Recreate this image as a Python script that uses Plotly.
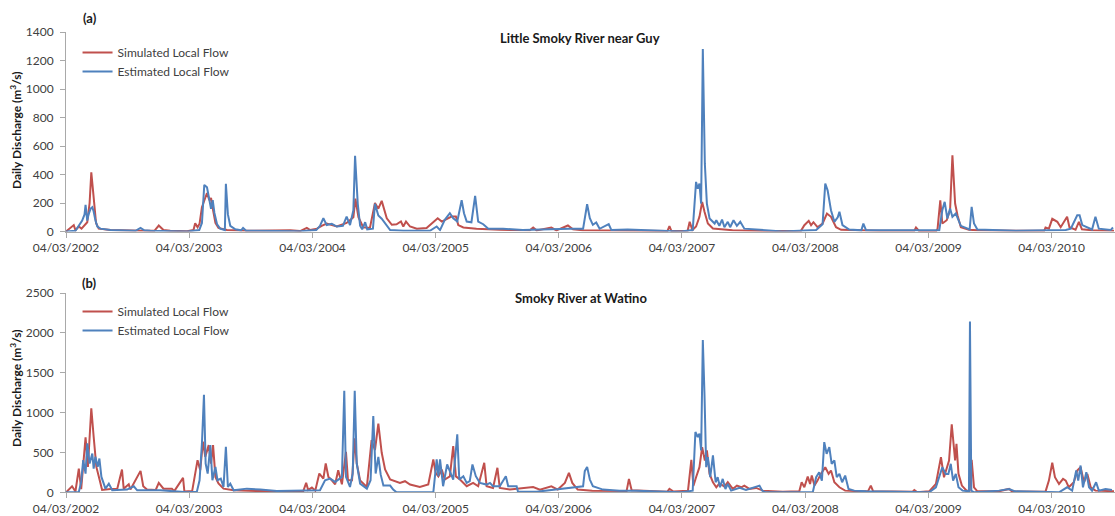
import pandas as pd
import plotly.graph_objects as go

START = pd.Timestamp("2002-03-04")

# ---- (a) Little Smoky River near Guy ------------------------------------
# day of record (days after 04/03/2002) and daily discharge in m3/s
sim_a_day = [0, 23, 28, 38, 46, 63, 70, 75, 82, 89, 97, 132, 221, 262, 275, 289, 309, 359,
             378, 383, 390, 396, 403, 418, 425, 430, 436, 443, 452, 477, 536, 665, 694, 714,
             724, 744, 758, 773, 803, 832, 852, 858, 867, 881, 901, 916, 926, 936, 951, 966,
             980, 993, 1000, 1008, 1020, 1040, 1069, 1089, 1102, 1114, 1128, 1143, 1156, 1163,
             1178, 1217, 1286, 1375, 1385, 1395, 1439, 1454, 1488, 1503, 1532, 1701, 1783,
             1789, 1795, 1843, 1849, 1857, 1868, 1878, 1886, 1893, 1903, 1918, 1946, 1976,
             2065, 2179, 2189, 2202, 2209, 2216, 2228, 2243, 2256, 2268, 2283, 2298, 2411,
             2515, 2520, 2529, 2580, 2584, 2592, 2598, 2611, 2621, 2628, 2636, 2643, 2653,
             2677, 2702, 2816, 2900, 2904, 2914, 2924, 2939, 2949, 2959, 2968, 2975, 2993,
             3003, 3012, 3041, 3107]
sim_a_flow = [0, 45, 10, 35, 20, 65, 200, 415, 240, 60, 20, 10, 5, 5, 42, 10, 5, 2,
              10, 58, 30, 55, 170, 270, 220, 235, 150, 60, 25, 10, 5, 8, 3, 25,
              10, 20, 40, 55, 35, 60, 100, 230, 100, 30, 25, 200, 160, 215, 93, 47,
              51, 70, 35, 70, 35, 19, 25, 70, 93, 70, 89, 105, 105, 45,
              28, 19, 12, 8, 28, 8, 28, 8, 42, 15, 8, 5, 3,
              37, 3, 5, 68, 10, 35, 103, 208, 138, 56, 21, 15, 8,
              4, 5, 44, 75, 44, 65, 30, 56, 126, 103, 30, 12, 5,
              5, 28, 4, 4, 20, 219, 56, 79, 149, 534, 196, 114, 30,
              12, 8, 5, 5, 28, 20, 89, 68, 30, 68, 103, 30, 12,
              68, 15, 8, 5]

est_a_day = [0, 28, 48, 55, 58, 63, 67, 73, 78, 82, 87, 93, 102, 132, 206, 221, 232, 250, 360,
             395, 403, 410, 418, 425, 430, 435, 440, 448, 457, 471, 474, 480, 487, 502, 519,
             525, 534, 694, 742, 753, 763, 773, 788, 803, 821, 832, 842, 852, 857, 865, 872,
             878, 887, 893, 910, 916, 926, 936, 946, 961, 1000, 1079, 1099, 1109, 1123, 1138,
             1148, 1160, 1173, 1180, 1188, 1202, 1213, 1222, 1237, 1252, 1296, 1354, 1493,
             1533, 1545, 1553, 1562, 1572, 1582, 1609, 1617, 1665, 1824, 1858, 1868, 1873,
             1878, 1883, 1888, 1891, 1894, 1900, 1908, 1923, 1928, 1937, 1945, 1952, 1962,
             1969, 1979, 1989, 1999, 2011, 2066, 2125, 2224, 2243, 2251, 2258, 2268, 2278,
             2288, 2293, 2302, 2322, 2358, 2364, 2372, 2421, 2589, 2598, 2605, 2613, 2621,
             2628, 2638, 2653, 2679, 2685, 2692, 2702, 2816, 2964, 2979, 2998, 3005, 3013,
             3042, 3052, 3062, 3097, 3104]
est_a_flow = [0, 5, 77, 120, 187, 77, 120, 160, 170, 140, 80, 35, 20, 10, 5, 25, 8, 5, 0,
              10, 60, 327, 310, 210, 160, 220, 130, 50, 20, 10, 335, 120, 40, 15, 8,
              25, 5, 2, 10, 40, 93, 45, 54, 35, 40, 105, 45, 150, 532, 194, 40,
              15, 65, 15, 20, 194, 112, 90, 60, 10, 5, 5, 35, 10, 82, 128,
              93, 70, 219, 128, 70, 65, 250, 70, 51, 19, 19, 10, 19,
              19, 191, 93, 47, 63, 19, 51, 10, 14, 0, 10, 348, 300,
              336, 196, 1281, 826, 476, 196, 91, 56, 79, 40, 84, 30, 68,
              30, 79, 40, 68, 20, 10, 0, 10, 50, 336, 289, 149, 68,
              100, 138, 45, 14, 8, 56, 8, 8, 8, 149, 208, 91, 161,
              103, 126, 40, 14, 173, 56, 14, 5, 10, 20, 114, 114, 45,
              14, 103, 20, 10, 28]

# ---- (b) Smoky River at Watino -------------------------------------------
sim_b_day = [0, 18, 28, 38, 45, 53, 58, 65, 75, 82, 90, 100, 107, 132, 152, 166, 171, 186,
             191, 221, 229, 240, 266, 275, 289, 314, 321, 347, 351, 374, 383, 390, 398, 406,
             413, 423, 430, 436, 443, 452, 467, 497, 576, 674, 703, 712, 718, 729, 739, 751,
             763, 770, 778, 788, 798, 807, 818, 830, 836, 848, 856, 862, 872, 892, 906, 916,
             926, 936, 946, 961, 975, 990, 1005, 1020, 1049, 1074, 1089, 1096, 1104, 1114,
             1123, 1138, 1148, 1156, 1168, 1188, 1207, 1222, 1240, 1247, 1266, 1279, 1286,
             1316, 1385, 1405, 1439, 1458, 1479, 1491, 1501, 1517, 1560, 1620, 1662, 1669,
             1677, 1783, 1789, 1801, 1844, 1854, 1860, 1868, 1878, 1886, 1894, 1900, 1908,
             1918, 1928, 1937, 1952, 1962, 1977, 1989, 2002, 2011, 2026, 2046, 2066, 2125,
             2174, 2181, 2189, 2199, 2206, 2211, 2219, 2228, 2238, 2251, 2261, 2268, 2278,
             2293, 2310, 2352, 2378, 2386, 2393, 2510, 2515, 2523, 2559, 2579, 2594, 2603,
             2613, 2618, 2626, 2631, 2636, 2640, 2646, 2656, 2670, 2679, 2685, 2692, 2702,
             2766, 2796, 2805, 2904, 2914, 2924, 2932, 2944, 2956, 2964, 2973, 2988, 2998,
             3008, 3018, 3028, 3038, 3052, 3107]
sim_b_flow = [0, 76, 10, 298, 40, 403, 689, 319, 1054, 697, 319, 151, 30, 40, 45, 286, 45, 101,
              35, 269, 76, 35, 30, 118, 45, 46, 15, 181, 10, 15, 214, 403, 277, 634,
              445, 592, 361, 592, 193, 110, 46, 25, 15, 8, 10, 118, 30, 59, 20, 235,
              172, 361, 193, 151, 100, 277, 100, 508, 150, 150, 676, 361, 150, 67, 655, 529,
              860, 496, 286, 160, 139, 118, 139, 97, 67, 97, 412, 244, 200, 286,
              160, 200, 580, 200, 160, 76, 118, 76, 370, 76, 55, 307, 55,
              34, 67, 34, 76, 34, 118, 244, 118, 34, 20, 15, 15, 168,
              25, 8, 42, 10, 20, 407, 80, 189, 315, 567, 399, 525, 231,
              126, 63, 113, 71, 126, 42, 84, 63, 84, 42, 55, 21, 8,
              12, 126, 63, 197, 105, 210, 84, 147, 231, 315, 231, 273, 126,
              63, 21, 12, 15, 84, 12, 8, 29, 2, 12, 105, 441, 189,
              315, 399, 853, 609, 399, 609, 231, 84, 21, 21, 407, 63, 12,
              12, 42, 10, 8, 147, 370, 189, 105, 168, 147, 63, 126, 273,
              315, 126, 231, 63, 21, 12]

est_b_day = [0, 38, 45, 51, 58, 63, 70, 78, 82, 87, 94, 99, 105, 110, 117, 127, 137, 181, 201,
             211, 280, 360, 388, 396, 403, 409, 414, 420, 428, 434, 443, 449, 459, 467, 474,
             480, 487, 497, 536, 576, 625, 753, 768, 783, 798, 818, 825, 830, 842, 850, 856,
             862, 872, 892, 903, 911, 918, 926, 933, 941, 961, 970, 980, 1089, 1094, 1099,
             1104, 1109, 1118, 1130, 1140, 1148, 1160, 1166, 1178, 1188, 1197, 1205, 1215,
             1227, 1247, 1257, 1266, 1286, 1304, 1311, 1336, 1340, 1395, 1454, 1493, 1533,
             1538, 1545, 1553, 1562, 1592, 1641, 1691, 1824, 1858, 1866, 1873, 1878, 1883,
             1888, 1893, 1898, 1903, 1910, 1918, 1926, 1932, 1939, 1947, 1955, 1962, 1972,
             1997, 2016, 2056, 2064, 2073, 2214, 2224, 2233, 2241, 2248, 2255, 2263, 2270,
             2278, 2285, 2293, 2301, 2310, 2320, 2337, 2372, 2559, 2579, 2598, 2608, 2616,
             2623, 2630, 2638, 2646, 2658, 2677, 2680, 2684, 2692, 2766, 2796, 2814, 2944,
             2959, 2968, 2983, 2995, 3001, 3008, 3015, 3025, 3033, 3042, 3054, 3062, 3082, 3101]
est_b_flow = [0, 5, 130, 403, 235, 613, 361, 487, 298, 445, 319, 424, 193, 130, 46, 109, 25, 34, 76,
              25, 25, 0, 8, 151, 613, 1222, 361, 235, 592, 151, 319, 151, 172, 67, 571,
              67, 109, 25, 46, 34, 17, 25, 151, 172, 130, 193, 1273, 193, 67, 235, 1273,
              361, 109, 46, 151, 958, 235, 445, 221, 84, 84, 34, 0, 0, 202, 412,
              202, 412, 76, 349, 244, 160, 727, 160, 202, 118, 139, 349, 202,
              118, 97, 118, 76, 76, 202, 76, 76, 8, 8, 34, 55, 76,
              265, 319, 160, 76, 34, 21, 21, 0, 21, 756, 693, 735, 525,
              1911, 1218, 315, 441, 189, 462, 126, 189, 63, 168, 42, 105, 21,
              55, 29, 84, 21, 0, 0, 189, 252, 147, 630, 483, 567, 357,
              399, 189, 231, 126, 210, 42, 21, 12, 0, 63, 315, 231, 231,
              357, 147, 231, 63, 21, 12, 2142, 21, 0, 21, 42, 12, 0,
              42, 63, 21, 273, 147, 336, 63, 252, 63, 21, 126, 21, 42, 29]

# yearly axis ticks
tick_dates = ["2002-03-04", "2003-03-04", "2004-03-04", "2005-03-04", "2006-03-04",
              "2007-03-04", "2008-03-04", "2009-03-04", "2010-03-04"]
tick_text = ["04/03/2002", "04/03/2003", "04/03/2004", "04/03/2005", "04/03/2006",
             "04/03/2007", "04/03/2008", "04/03/2009", "04/03/2010"]
y_ticks_a = [0, 200, 400, 600, 800, 1000, 1200, 1400]
y_ticks_b = [0, 500, 1000, 1500, 2000, 2500]

RED = "#C0504D"
BLUE = "#4F81BD"
AXIS = "#A9A9A9"
FONT = "Lato"
TXT = "#404040"


def to_dates(days):
    return START + pd.to_timedelta(days, unit="D")


fig = go.Figure()
panels = [
    ("x", "y", "legend", sim_a_day, sim_a_flow, est_a_day, est_a_flow),
    ("x2", "y2", "legend2", sim_b_day, sim_b_flow, est_b_day, est_b_flow),
]
for xa, ya, leg, sd, sf, ed, ef in panels:
    fig.add_trace(go.Scatter(x=to_dates(sd), y=sf, mode="lines", name="Simulated Local Flow",
                             line=dict(color=RED, width=2), xaxis=xa, yaxis=ya, legend=leg))
    fig.add_trace(go.Scatter(x=to_dates(ed), y=ef, mode="lines", name="Estimated Local Flow",
                             line=dict(color=BLUE, width=2), xaxis=xa, yaxis=ya, legend=leg))

x_range = ["2002-03-04", "2010-09-08"]
xcommon = dict(type="date", range=x_range, tickmode="array", tickvals=tick_dates,
               ticktext=tick_text, showline=True, linecolor=AXIS, linewidth=1,
               ticks="outside", ticklen=5, tickcolor=AXIS, showgrid=False, zeroline=False,
               tickfont=dict(family=FONT, size=12, color=TXT), automargin=False,
               fixedrange=True)
ycommon = dict(showline=True, linecolor=AXIS, linewidth=1, ticks="outside", ticklen=5,
               tickcolor=AXIS, showgrid=False, zeroline=False, tickmode="array",
               tickfont=dict(family=FONT, size=12, color=TXT), automargin=False,
               ticklabelstandoff=4, fixedrange=True)

H = 516.0
fig.update_layout(
    width=1115, height=516,
    margin=dict(l=66, r=0, t=0, b=0),
    paper_bgcolor="white", plot_bgcolor="white",
    xaxis=dict(xcommon, anchor="y", domain=[0, 1]),
    yaxis=dict(ycommon, anchor="x", range=[0, 1400], tickvals=y_ticks_a,
               domain=[(H - 231.5) / H, (H - 32) / H]),
    xaxis2=dict(xcommon, anchor="y2", domain=[0, 1]),
    yaxis2=dict(ycommon, anchor="x2", range=[0, 2500], tickvals=y_ticks_b,
                domain=[(H - 492.3) / H, (H - 293) / H]),
    legend=dict(x=0.011, y=(H - 38) / H, xanchor="left", yanchor="top",
                bgcolor="rgba(0,0,0,0)", font=dict(family=FONT, size=12, color=TXT),
                tracegroupgap=0),
    legend2=dict(x=0.011, y=(H - 297) / H, xanchor="left", yanchor="top",
                 bgcolor="rgba(0,0,0,0)", font=dict(family=FONT, size=12, color=TXT),
                 tracegroupgap=0),
    showlegend=True,
)

W = 1115 - 66.0


def px_x(p):
    return (p - 66.0) / W


def px_y(p):
    return (H - p) / H


notes = [
    ("(a)", 89.5, 18), ("(b)", 89.5, 283),
    ("Little Smoky River near Guy", 580, 38), ("Smoky River at Watino", 581, 298),
]
for text, px, py in notes:
    fig.add_annotation(text=f"<b>{text}</b>", x=px_x(px), y=px_y(py), xref="paper", yref="paper",
                       showarrow=False, xanchor="center", yanchor="middle",
                       font=dict(family=FONT, size=13, color="#1a1a1a"))

for py in (130, 388):
    fig.add_annotation(text="<b>Daily Discharge (m<sup>3</sup>/s)</b>", textangle=-90,
                       x=px_x(16), y=px_y(py), xref="paper", yref="paper", showarrow=False,
                       xanchor="center", yanchor="middle",
                       font=dict(family=FONT, size=12, color="#1a1a1a"))

fig.write_html("out.html")
